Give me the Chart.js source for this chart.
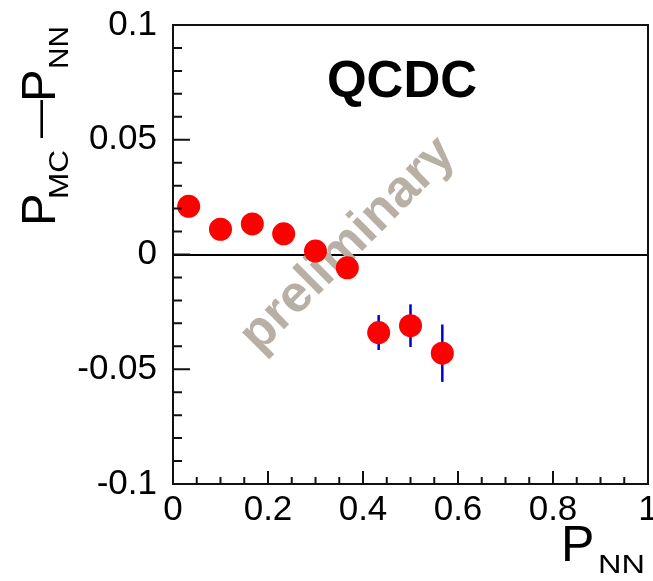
<!DOCTYPE html>
<html>
<head>
<meta charset="utf-8">
<script src="https://cdn.jsdelivr.net/npm/chart.js@4/dist/chart.umd.min.js"></script>
<style>
  body { margin: 0; background: #fff; }
  #wrap { width: 653px; height: 581px; }
</style>
</head>
<body>
<div id="wrap"><canvas id="myChart"></canvas></div>
<script>
// bin centres of P_NN and the measured difference P_MC - P_NN
const xCenters = [0.033, 0.1, 0.167, 0.233, 0.3, 0.367, 0.433, 0.5, 0.567];
const diffValues = [0.021, 0.011, 0.0133, 0.009, 0.0015, -0.0058, -0.034, -0.031, -0.043];
const diffErrors = [0.003, 0.003, 0.003, 0.003, 0.003, 0.004, 0.0076, 0.0093, 0.0125];

const xTicks = [0, 0.2, 0.4, 0.6, 0.8, 1];
const xTickLabels = ['0', '0.2', '0.4', '0.6', '0.8', '1'];
const yTicks = [-0.1, -0.05, 0, 0.05, 0.1];
const yTickLabels = ['-0.1', '-0.05', '0', '0.05', '0.1'];

const FONT = '"Liberation Sans", Arial, Helvetica, sans-serif';
const ctx = document.getElementById('myChart').getContext('2d');

// text with optional rotation and horizontal stretch (ROOT subscripts are wide)
function drawText(c, text, size, x, y, rotated, stretch) {
    c.save();
    c.translate(x, y);
    if (rotated) c.rotate(-Math.PI / 2);
    c.scale(stretch || 1, 1);
    c.font = size + 'px ' + FONT;
    c.textAlign = 'left';
    c.textBaseline = 'alphabetic';
    c.fillText(text, 0, 0);
    c.restore();
}

// error bars under the markers, watermark on top of the zero line
const errorBars = {
    id: 'errorBars',
    beforeDatasetsDraw(chart) {
        const c = chart.ctx, xs = chart.scales.x, ys = chart.scales.y;
        c.save();
        c.strokeStyle = '#0000cc';
        c.lineWidth = 2.5;
        xCenters.forEach((xv, i) => {
            const px = xs.getPixelForValue(xv);
            c.beginPath();
            c.moveTo(px, ys.getPixelForValue(diffValues[i] - diffErrors[i]));
            c.lineTo(px, ys.getPixelForValue(diffValues[i] + diffErrors[i]));
            c.stroke();
        });
        c.translate(348, 245);
        c.rotate(-45 * Math.PI / 180);
        c.fillStyle = '#b9b0a5';
        c.font = 'bold 52px ' + FONT;
        c.textAlign = 'center';
        c.textBaseline = 'middle';
        c.fillText('preliminary', 0, 0);
        c.restore();
    }
};

// ROOT style frame, inner ticks, x labels and titles
const frame = {
    id: 'frame',
    afterDraw(chart) {
        const c = chart.ctx, a = chart.chartArea, xs = chart.scales.x, ys = chart.scales.y;
        c.save();
        c.strokeStyle = '#111';
        c.lineWidth = 2;
        c.strokeRect(a.left, a.top, a.right - a.left, a.bottom - a.top);
        c.beginPath();
        for (let k = 0; k <= 20; k++) {
            const py = ys.getPixelForValue(-0.1 + k * 0.01);
            const len = (k % 5 === 0) ? 17 : 9;
            c.moveTo(a.left, py);
            c.lineTo(a.left + len, py);
        }
        for (let k = 0; k <= 20; k++) {
            const px = xs.getPixelForValue(k * 0.05);
            const len = (k % 4 === 0) ? 13 : 7;
            c.moveTo(px, a.bottom);
            c.lineTo(px, a.bottom - len);
        }
        c.stroke();

        c.fillStyle = '#000';
        c.font = '35px ' + FONT;
        c.textAlign = 'center';
        c.textBaseline = 'alphabetic';
        xTicks.forEach((v, i) => c.fillText(xTickLabels[i], xs.getPixelForValue(v), a.bottom + 36));

        c.font = 'bold 51px ' + FONT;
        c.fillText('QCDC', 402, 97);

        // x title P_NN
        drawText(c, 'P', 50, 561, 561, false);
        drawText(c, 'NN', 26, 598, 573, false, 1.25);

        // y title P_MC - P_NN
        drawText(c, 'P', 49, 55, 226, true);
        drawText(c, 'MC', 27, 68, 199, true, 1.17);
        drawText(c, '\u2014', 38, 52, 138, true);
        drawText(c, 'P', 49, 55, 102, true);
        drawText(c, 'NN', 27, 68, 69, true, 1.1);
        c.restore();
    }
};

new Chart(ctx, {
    type: 'scatter',
    data: {
        datasets: [{
            data: xCenters.map((x, i) => ({ x: x, y: diffValues[i] })),
            backgroundColor: '#ff0000',
            borderWidth: 0,
            pointRadius: 11.5,
            pointHoverRadius: 11.5
        }]
    },
    options: {
        responsive: true,
        maintainAspectRatio: false,
        animation: false,
        events: [],
        layout: { autoPadding: false, padding: { left: 0, top: 25, right: 5, bottom: 0 } },
        plugins: {
            legend: { display: false },
            tooltip: { enabled: false }
        },
        scales: {
            x: {
                type: 'linear',
                min: 0,
                max: 1,
                afterBuildTicks: s => { s.ticks = xTicks.map(v => ({ value: v })); },
                afterFit: s => { s.height = 97; s.paddingLeft = 0; s.paddingRight = 0; },
                grid: { display: false, drawTicks: false },
                border: { display: false },
                ticks: { display: false }
            },
            y: {
                type: 'linear',
                min: -0.1,
                max: 0.1,
                afterBuildTicks: s => { s.ticks = yTicks.map(v => ({ value: v })); },
                afterFit: s => { s.width = 173; s.paddingTop = 0; s.paddingBottom = 0; },
                grid: {
                    drawTicks: false,
                    lineWidth: 2,
                    color: c => (c.tick && c.tick.value === 0) ? '#000' : 'rgba(0,0,0,0)'
                },
                border: { display: false },
                ticks: {
                    color: '#000',
                    font: { family: FONT, size: 35 },
                    padding: 16,
                    autoSkip: false,
                    callback: (v, i) => yTickLabels[i]
                }
            }
        }
    },
    plugins: [errorBars, frame]
});
</script>
</body>
</html>
